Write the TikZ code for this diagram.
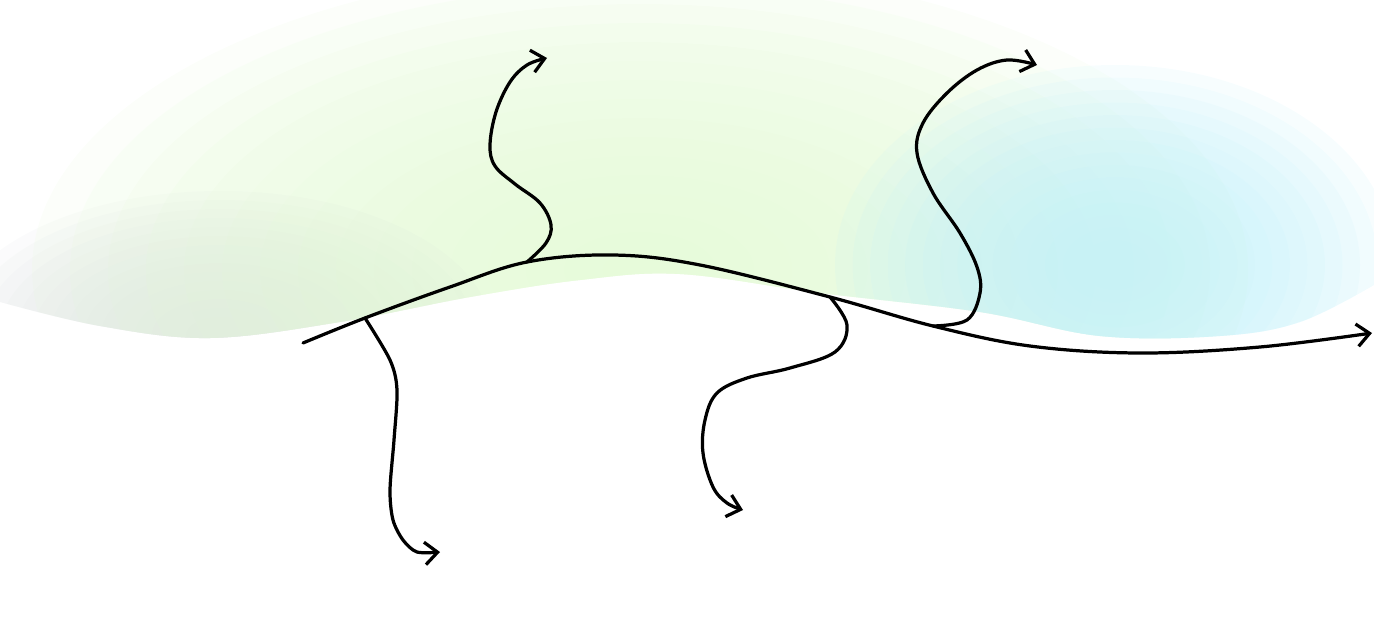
\documentclass[tikz,border=0pt]{standalone}
\usepackage{tikz}
\usetikzlibrary{arrows.meta}
\definecolor{mistgray}{HTML}{DFE3E4}
\definecolor{limeglow}{HTML}{E4FAD6}
\definecolor{skyglow}{HTML}{C4F1FA}

\begin{document}
\begin{tikzpicture}[x=0.05cm,y=-0.05cm,
			wave/.style={line width=4.6pt,line cap=round,line join=round},
			hook/.style={wave,-{Straight Barb[length=18pt,width=32pt]}},
			glow/.style={fill opacity=0.13}]
			\useasboundingbox (0,0) rectangle (1374,620);
			
			\begin{scope}
				\clip plot[smooth,tension=0.6] coordinates{(0,302) (100,326) (210,338) (340,322) (470,297) (580,280) (680,274) (820,293) (980,312) (1100,336) (1220,336) (1300,322) (1374,285)} -- (1374,0) -- (0,0) -- cycle;
				\foreach \k in {1,...,16}{
					\fill[mistgray,glow] (220,335) ellipse [x radius=17*\k, y radius=9*\k];
				}
				\foreach \k in {1,...,16}{
					\fill[limeglow,glow] (640,270) ellipse [x radius=38*\k, y radius=19*\k];
				}
				\foreach \k in {1,...,16}{
					\fill[skyglow,glow] (1115,265) ellipse [x radius=17.5*\k, y radius=12.5*\k];
				}
			\end{scope}
			
			\coordinate (start) at (303,343);
			\coordinate (fork1) at (365,318);
			\coordinate (fork2) at (527,262);
			\coordinate (fork3) at (830,297);
			\coordinate (fork4) at (933,326);
			\coordinate (flow) at (1372,333);
			\coordinate (out1) at (440,552);
			\coordinate (out2) at (547,58);
			\coordinate (out3) at (743,510);
			\coordinate (out4) at (1037,65);
			
			\draw[hook] plot[smooth,tension=0.6] coordinates{(start) (fork1) (450,287) (fork2) (613,255) (700,265) (fork3) (fork4) (1030,346) (1140,353) (1260,347) (flow)};
			\draw[hook] plot[smooth,tension=0.5] coordinates{(fork1) (390,360) (397,390) (394,440) (390,490) (393,520) (403,540) (417,552) (out1)};
			\draw[hook] plot[smooth,tension=0.6] coordinates{(fork2) (546,243) (551,225) (540,203) (515,184) (495,166) (490,145) (496,112) (510,82) (527,65) (out2)};
			\draw[hook] plot[smooth,tension=0.6] coordinates{(fork3) (847,325) (835,352) (790,368) (747,378) (717,393) (705,420) (703,453) (713,487) (727,503) (out3)};
			\draw[hook] plot[smooth,tension=0.6] coordinates{(fork4) (967,320) (980,293) (977,267) (960,233) (933,193) (917,153) (923,123) (947,93) (977,70) (1007,60) (out4)};
\end{tikzpicture}
\end{document}
